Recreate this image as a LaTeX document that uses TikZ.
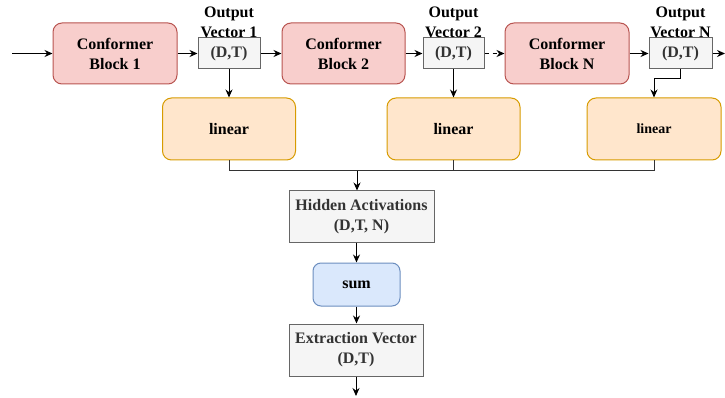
\documentclass[tikz,border=0pt]{standalone}
\usepackage{fontspec}
\setmainfont{Liberation Serif}[BoldFont={Liberation Serif Bold}]
\usetikzlibrary{arrows.meta}
\definecolor{redfill}{HTML}{F8CECC}
\definecolor{redline}{HTML}{B85450}
\definecolor{orfill}{HTML}{FFE6CC}
\definecolor{orline}{HTML}{D79B00}
\definecolor{grfill}{HTML}{F5F5F5}
\definecolor{grline}{HTML}{666666}
\definecolor{grtext}{HTML}{333333}
\definecolor{blfill}{HTML}{DAE8FC}
\definecolor{blline}{HTML}{6C8EBF}
\tikzset{
  base/.style={font=\fontsize{16}{20}\selectfont\bfseries, align=center, inner sep=0pt, line width=1pt},
  conf/.style={base, draw=redline, fill=redfill, rounded corners=9pt, minimum height=61pt},
  vec/.style={base, draw=grline, fill=grfill, text=grtext, minimum height=31pt},
  lin/.style={base, draw=orline, fill=orfill, rounded corners=9pt, minimum width=133pt, minimum height=62pt},
  gbox/.style={base, draw=grline, fill=grfill, text=grtext},
  lbl/.style={base},
  arr/.style={-{Stealth[length=8pt,width=7pt]}, line width=1pt},
  wire/.style={line width=1pt, draw=black!80}
}
\begin{document}
\begin{tikzpicture}[x=1pt,y=-1pt]
\useasboundingbox (0,0) rectangle (725,398);
% top row
\node[conf, minimum width=124pt] (cb1) at (115,53.5) {Conformer\\Block 1};
\node[vec, minimum width=62pt] (ov1) at (229,53.5) {(D,T)};
\node[conf, minimum width=123pt] (cb2) at (343.5,53.5) {Conformer\\Block 2};
\node[vec, minimum width=61pt] (ov2) at (453.5,53.5) {(D,T)};
\node[conf, minimum width=124pt] (cbN) at (567,53.5) {Conformer\\Block N};
\node[vec, minimum width=63pt] (ovN) at (680.5,53.5) {(D,T)};
\node[lbl] (l1) at (229,22) {Output\\Vector 1};
\node[lbl] (l2) at (453.5,22) {Output\\Vector 2};
\node[lbl] (lN) at (680.5,22) {Output\\Vector N};
% linear row
\node[lin] (lin1) at (229,129) {linear};
\node[lin] (lin2) at (453.5,129) {linear};
\node[lin, minimum width=134pt, font=\fontsize{14}{17}\selectfont\bfseries] (linN) at (654,129) {linear};
% column
\node[gbox, minimum width=145pt, minimum height=51pt] (hid) at (361.5,216.5) {Hidden Activations\\(D,T, N)};
\node[base, draw=blline, fill=blfill, rounded corners=8pt, minimum width=87pt, minimum height=43pt] (sum) at (356.5,284.5) {sum};
\node[gbox, minimum width=134pt, minimum height=52pt] (ext) at (356,350) {Extraction Vector\\(D,T)};
% coordinates
\coordinate (in) at (12,53.5);
\coordinate (out) at (725,53.5);
\coordinate (j) at (357,171);
\coordinate (end) at (356,396);
% connectors
\draw[arr] (in) -- (cb1.west);
\draw[arr] (cb1.east) -- (ov1.west);
\draw[arr] (ov1.east) -- (cb2.west);
\draw[arr] (cb2.east) -- (ov2.west);
\draw[arr, dash pattern=on 4pt off 4pt] (ov2.east) -- (cbN.west);
\draw[arr] (cbN.east) -- (ovN.west);
\draw[arr] (ovN.east) -- (out);
\draw[arr] (ov1.south) -- (lin1.north);
\draw[arr] (ov2.south) -- (lin2.north);
\draw[arr] (ovN.south) -- ++(0,9) -| (linN.north);
\draw[wire] (lin1.south) |- (j);
\draw[wire] (lin2.south) |- (j);
\draw[wire] (linN.south) |- (j);
\draw[arr] (j) -- (j |- hid.north);
\draw[arr] (hid.south -| sum.north) -- (sum.north);
\draw[arr] (sum.south) -- (ext.north -| sum.south);
\draw[arr] (ext.south) -- (end);
\end{tikzpicture}
\end{document}
